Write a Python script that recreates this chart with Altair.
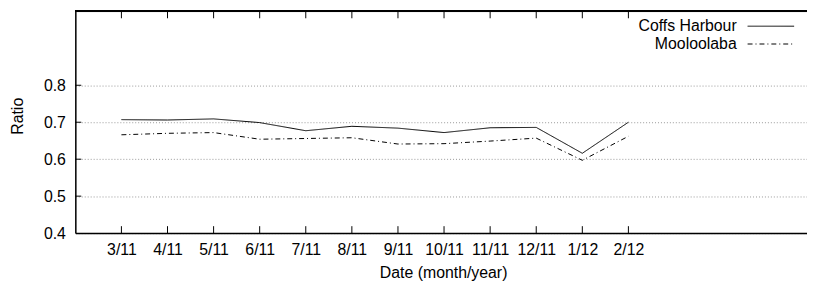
import altair as alt
import pandas as pd

# ---- data ----
months = ["3/11", "4/11", "5/11", "6/11", "7/11", "8/11", "9/11", "10/11",
          "11/11", "12/11", "1/12", "2/12"]
coffs = [0.707, 0.706, 0.709, 0.699, 0.677, 0.689, 0.684, 0.672, 0.685, 0.686, 0.616, 0.700]
mool = [0.666, 0.670, 0.672, 0.654, 0.656, 0.658, 0.641, 0.642, 0.649, 0.657, 0.597, 0.662]
series = ["Coffs Harbour", "Mooloolaba"]
dashes = [[1, 0], [5, 3, 1, 3]]
y_ticks = [0.4, 0.5, 0.6, 0.7, 0.8]

W, H = 739, 224
FONT = "Liberation Sans"
FS = 16

idx = list(range(1, len(months) + 1))
df = pd.DataFrame({
    "i": idx * 2,
    "month": months * 2,
    "ratio": coffs + mool,
    "series": [series[0]] * len(months) + [series[1]] * len(months),
})

label_expr = "[''," + ",".join(f"'{m}'" for m in months) + "][datum.value]"

xscale = alt.Scale(domain=[0, 15.875], nice=False, zero=False)
yscale = alt.Scale(domain=[0.4, 1.0], nice=False, zero=False)

xaxis = alt.Axis(
    values=idx, labelExpr=label_expr, title=None, ticks=False, grid=False,
    labelPadding=9, labelFont=FONT, labelFontSize=FS, labelColor="black",
    domainColor="black", domainWidth=1.5, labelFlush=False, labelOverlap=False)
yaxis = alt.Axis(
    values=y_ticks, format=".1f", title=None, ticks=False, grid=True,
    gridColor="#999999", gridDash=[1, 2], gridWidth=1,
    labelPadding=10, labelFont=FONT, labelFontSize=FS, labelColor="black",
    domainColor="black", domainWidth=1.5, labelFlush=False)

lines = alt.Chart(df).mark_line(color="black", strokeWidth=1).encode(
    x=alt.X("i:Q", scale=xscale, axis=xaxis),
    y=alt.Y("ratio:Q", scale=yscale, axis=yaxis),
    strokeDash=alt.StrokeDash("series:N", scale=alt.Scale(
        domain=series, range=dashes), legend=None),
    detail="series:N",
)

tick_df = pd.DataFrame({"i": idx})
ytick_df = pd.DataFrame({"ratio": y_ticks[1:]})

bottom_ticks = alt.Chart(tick_df).mark_rule(color="black", strokeWidth=1).encode(
    x=alt.X("i:Q", scale=xscale, axis=xaxis), y=alt.value(H), y2=alt.value(H - 7))
top_ticks = alt.Chart(tick_df).mark_rule(color="black", strokeWidth=1).encode(
    x=alt.X("i:Q", scale=xscale, axis=xaxis), y=alt.value(0), y2=alt.value(7))
left_ticks = alt.Chart(ytick_df).mark_rule(color="black", strokeWidth=1).encode(
    y=alt.Y("ratio:Q", scale=yscale, axis=yaxis), x=alt.value(0), x2=alt.value(6))
top_border = alt.Chart(tick_df).mark_rule(color="black", strokeWidth=1.5).encode(
    x=alt.value(0), x2=alt.value(W), y=alt.value(0))

legend_layers = []
for j, name in enumerate(series):
    ldf = pd.DataFrame({"series": [name]})
    yy = 15 + 18 * j
    legend_layers.append(alt.Chart(ldf).mark_text(
        align="right", baseline="middle", font=FONT, fontSize=FS, color="black"
    ).encode(text="series:N", x=alt.value(668), y=alt.value(yy)))
    legend_layers.append(alt.Chart(ldf).mark_rule(
        color="black", strokeWidth=1, strokeDash=dashes[j]
    ).encode(x=alt.value(679), x2=alt.value(726), y=alt.value(yy)))

title_df = pd.DataFrame({"t": ["Date (month/year)"]})
x_title = alt.Chart(title_df).mark_text(
    align="center", baseline="alphabetic", font=FONT, fontSize=FS, color="black"
).encode(text="t:N", x=alt.value(372), y=alt.value(269))
ytitle_df = pd.DataFrame({"t": ["Ratio"]})
y_title = alt.Chart(ytitle_df).mark_text(
    align="center", baseline="middle", font=FONT, fontSize=FS, color="black", angle=270
).encode(text="t:N", x=alt.value(-58), y=alt.value(106))

chart = alt.layer(
    lines, bottom_ticks, top_ticks, left_ticks, top_border,
    *legend_layers, x_title, y_title
).properties(
    width=W, height=H,
    autosize=alt.AutoSizeParams(type="none"),
    padding={"left": 68, "top": 2, "right": 0, "bottom": 48},
).configure_view(stroke=None).configure(background="white")

chart.save("out.html", embed_options={"renderer": "svg", "actions": False})
